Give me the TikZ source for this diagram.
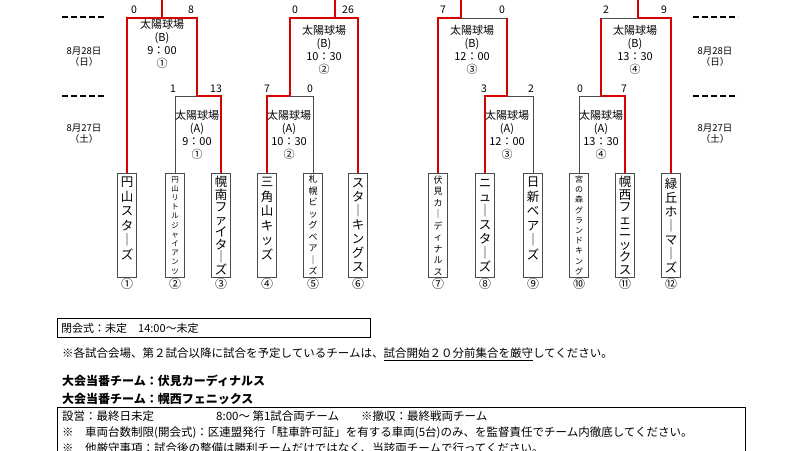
\documentclass[tikz,border=0pt]{standalone}
\usepackage{fontspec}
\setmainfont{Noto Sans CJK JP}
\def\vtstop{}
\def\vtx#1{\ifx\vtstop#1\else\hbox to 1em{\hss#1\hss}\par\expandafter\vtx\fi}
\newcommand\vt[2]{\vbox{\baselineskip=#1pt\lineskiplimit=-20pt\vtx#2\vtstop}}
\tikzset{
  bline/.style={gray!60!black, line width=0.7},
  rline/.style={red!85!black, line width=1.6},
  team/.style={draw=gray!60!black, line width=0.8, minimum width=19, minimum height=104, inner sep=0, anchor=north},
  game/.style={align=center, font=\fontsize{11}{12.8}\selectfont, inner sep=0},
  score/.style={font=\fontsize{10.5}{10}\selectfont, inner sep=0},
  date/.style={align=center, font=\fontsize{9.5}{11}\selectfont, inner sep=0},
  note/.style={anchor=west, font=\fontsize{11.5}{12}\selectfont, inner sep=0},
  dashline/.style={black, line width=1.2, dash pattern=on 6pt off 3pt}
}
\begin{document}
\begin{tikzpicture}[x=1pt,y=1pt,yscale=-1]
\useasboundingbox (0,0) rectangle (800,450);
\fill[white] (0,0) rectangle (800,450);

% teams
\node[team] (t1) at (127,173) {\fontsize{12.5}{12}\selectfont\vt{14.5}{円山スタ｜ズ\ }};
\node[team] (t2) at (175,173) {\fontsize{7.5}{8}\selectfont\vt{9.2}{円山リトルジャイアンツ}};
\node[team] (t3) at (221,173) {\fontsize{12.5}{12}\selectfont\vt{12.5}{幌南ファイタ｜ズ}};
\node[team] (t4) at (267,173) {\fontsize{12.5}{12}\selectfont\vt{14.5}{三角山キッズ\ }};
\node[team] (t5) at (313,173) {\fontsize{9}{9}\selectfont\vt{11.5}{札幌ビッグベア｜ズ}};
\node[team] (t6) at (358,173) {\fontsize{12.5}{12}\selectfont\vt{14}{スタ｜キングス}};
\node[team] (t7) at (438,173) {\fontsize{9}{9}\selectfont\vt{11.5}{伏見カ｜ディナルス}};
\node[team] (t8) at (485,173) {\fontsize{12.5}{12}\selectfont\vt{14}{ニュ｜スタ｜ズ}};
\node[team] (t9) at (533,173) {\fontsize{12.5}{12}\selectfont\vt{14.5}{日新ベア｜ズ\ }};
\node[team] (t10) at (579,173) {\fontsize{8}{8}\selectfont\vt{10.2}{宮の森グランドキング}};
\node[team] (t11) at (625,173) {\fontsize{12.5}{12}\selectfont\vt{12.5}{幌西フェニックス}};
\node[team] (t12) at (671,173) {\fontsize{12.5}{12}\selectfont\vt{14}{緑丘ホ｜マ｜ズ}};
\foreach \i/\x/\c in {1/127/①,2/175/②,3/221/③,4/267/④,5/313/⑤,6/358/⑥,7/438/⑦,8/485/⑧,9/533/⑨,10/579/⑩,11/625/⑪,12/671/⑫}
  \node[score, font=\fontsize{12}{12}\selectfont] (n\i) at (\x,284) {\c};

% brackets
\draw[rline] (t1.north) -- (127,18) -- (162,18) -- (162,0);
\draw[rline] (162,18) -- (197,18) -- (197,96);
\draw[bline] (t2.north) -- (175,96) -- (197,96);
\draw[rline] (197,96) -- (221,96) -- (t3.north);
\draw[rline] (t4.north) -- (267,96) -- (290,96);
\draw[bline] (290,96) -- (313,96) -- (t5.north);
\draw[rline] (290,96) -- (290,18) -- (335,18) -- (335,0);
\draw[rline] (335,18) -- (358,18) -- (t6.north);
\draw[rline] (t7.north) -- (438,18) -- (461,18) -- (461,0);
\draw[bline] (461,18) -- (507,18);
\draw[rline] (507,18) -- (507,96);
\draw[rline] (t8.north) -- (485,96) -- (507,96);
\draw[bline] (507,96) -- (533,96) -- (t9.north);
\draw[bline] (t10.north) -- (579,96) -- (601,96);
\draw[rline] (601,96) -- (625,96) -- (t11.north);
\draw[rline] (601,96) -- (601,18);
\draw[bline] (601,18) -- (638,18);
\draw[rline] (638,0) -- (638,18) -- (671,18) -- (t12.north);

% games
\node[game] (g1b) at (162,44) {太陽球場\\(B)\\9：00\\①};
\node[game] (g2b) at (324,50) {太陽球場\\(B)\\10：30\\②};
\node[game] (g3b) at (472,50) {太陽球場\\(B)\\12：00\\③};
\node[game] (g4b) at (635,50) {太陽球場\\(B)\\13：30\\④};
\node[game] (g1a) at (197,135) {太陽球場\\(A)\\9：00\\①};
\node[game] (g2a) at (289,135) {太陽球場\\(A)\\10：30\\②};
\node[game] (g3a) at (507,135) {太陽球場\\(A)\\12：00\\③};
\node[game] (g4a) at (601,135) {太陽球場\\(A)\\13：30\\④};

% scores
\foreach \x/\y/\s in {134/10/0,191/10/8,295/10/0,348/10/26,443/10/7,502/10/0,606/10/2,664/10/9,
  173/89/1,216/89/13,267/89/7,310/89/0,484/89/3,531/89/2,580/89/0,624/89/7}
  \node[score] at (\x,\y) {\s};

% dates
\foreach \x in {84,715} {
  \draw[dashline] (\x-22,17) -- (\x+23,17);
  \draw[dashline] (\x-22,96) -- (\x+23,96);
  \node[date] at (\x,57) {8月28日\\（日）};
  \node[date] at (\x,134) {8月27日\\（土）};
}

% notes
\node[draw, line width=1.2, minimum width=313, minimum height=19, anchor=north west, inner sep=0] (close) at (57,318) {};
\node[note, font=\fontsize{11}{12}\selectfont] at ([xshift=4]close.west) {閉会式：未定　14:00～未定};
\node[note] (caution) at (62,354)
  {※各試合会場、第２試合以降に試合を予定しているチームは、\underline{試合開始２０分前集合を厳守}してください。};
\node[note, font=\bfseries\fontsize{12}{12}\selectfont] (duty1) at (62,381) {大会当番チーム：伏見カーディナルス};
\node[note, font=\bfseries\fontsize{12}{12}\selectfont] (duty2) at (62,399) {大会当番チーム：幌西フェニックス};
\node[draw, line width=1.2, minimum width=688, minimum height=60, anchor=north west, inner sep=0] (rules) at (57,407) {};
\node[note] at (62,416) {設営：最終日未定\hspace{62pt}8:00～ 第1試合両チーム\hspace{22pt}※撤収：最終戦両チーム};
\node[note] at (62,433) {※　車両台数制限(開会式)：区連盟発行「駐車許可証」を有する車両(5台)のみ、を監督責任でチーム内徹底してください。};
\node[note] at (62,448) {※　他厳守事項：試合後の整備は勝利チームだけではなく、当該両チームで行ってください。};
\end{tikzpicture}
\end{document}
